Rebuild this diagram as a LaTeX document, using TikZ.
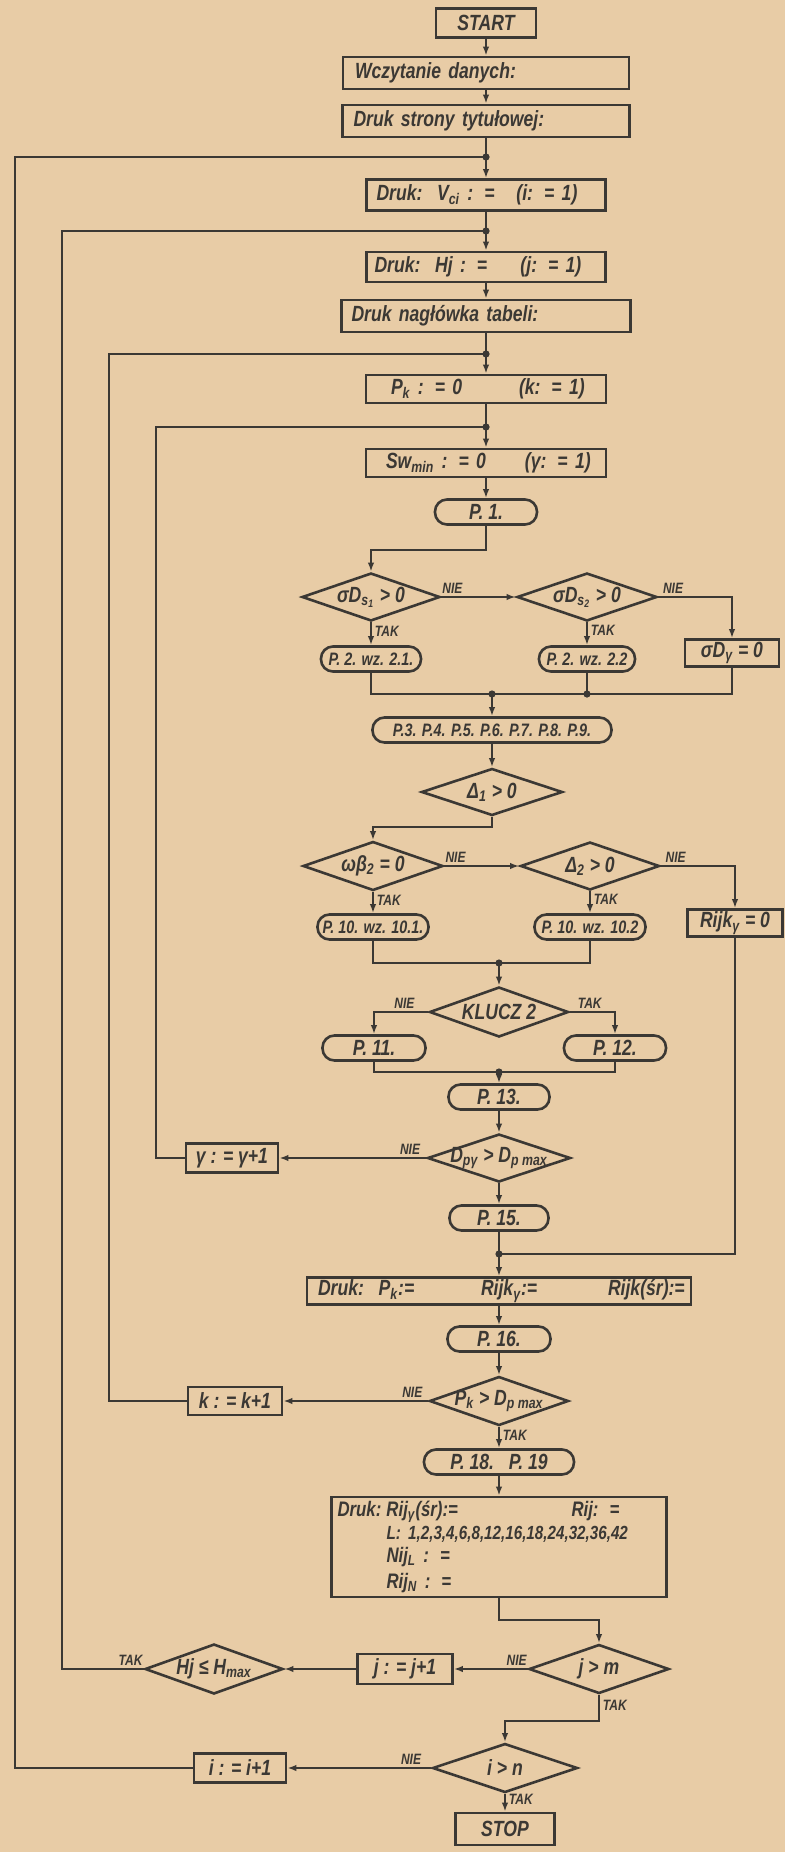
\documentclass[tikz,border=0pt]{standalone}
\usepackage{fontspec}
\setmainfont{Liberation Sans}[FakeStretch=0.8]
\usetikzlibrary{arrows.meta,positioning,calc,shapes.geometric}
\definecolor{Paper}{HTML}{E8CCA6}
\definecolor{Ink}{HTML}{3B3834}
\newcommand{\dlab}[1]{\makebox[0pt]{#1}}
\newcommand{\sbs}[1]{\textsubscript{#1}}

\begin{document}
\begin{tikzpicture}[
  x=0.5pt,y=-0.5pt,
  every node/.style={font=\fontsize{11}{13}\selectfont\bfseries\itshape,text=Ink},
  blk/.style={draw=Ink,line width=1.3pt,fill=Paper,minimum height=#1,inner sep=0pt},
  cbox/.style n args={2}{blk=#2,minimum width=#1},
  lbox/.style n args={2}{blk=#2,text width=#1,align=left},
  rbox/.style={blk=12.5pt,rounded corners=6pt,minimum width=#1},
  dec/.style n args={2}{diamond,draw=Ink,line width=1.3pt,fill=Paper,minimum width=#1,minimum height=#2,inner sep=0pt},
  lin/.style={draw=Ink,line width=0.9pt},
  arr/.style={lin,-{Latex[length=4.5pt,width=3.2pt]}},
  dot/.style={circle,fill=Ink,inner sep=0pt,minimum size=3.6pt},
  lbl/.style={font=\fontsize{7.5}{9}\selectfont\bfseries\itshape,inner sep=1.5pt},
  sm/.style={font=\fontsize{9}{11}\selectfont\bfseries\itshape}
]
\fill[Paper] (0,0) rectangle (785,1852);
\useasboundingbox (0,0) rectangle (785,1852);

% glowny ciag
\node[cbox={50pt}{14.5pt}] (start) at (486,23) {START};
\node[lbox={143pt}{16pt}] (wczyt) at (486,73) {\hspace*{6pt}Wczytanie danych:};
\node[lbox={143.5pt}{16pt}] (tytul) at (486,121) {\hspace*{5.5pt}Druk strony tytułowej:};
\node[lbox={119.5pt}{15.5pt}] (vci) at (486,195) {\hspace*{5pt}\makebox[70pt][l]{Druk:\ \ V\sbs{ci} : =}(i: = 1)};
\node[lbox={119.5pt}{15pt}] (hj) at (486,267) {\hspace*{4pt}\makebox[73pt][l]{Druk:\ \ Hj : =}(j: = 1)};
\node[lbox={144.5pt}{16pt}] (naglow) at (486,316) {\hspace*{5pt}Druk nagłówka tabeli:};
\node[lbox={120pt}{14pt}] (pk0) at (486,389) {\hspace*{12.5pt}\makebox[64pt][l]{P\sbs{k} : = 0}(k: = 1)};
\node[lbox={120pt}{14pt}] (swmin) at (486,463) {\hspace*{10pt}\makebox[69.5pt][l]{Sw\sbs{min} : = 0}(γ: = 1)};
\node[rbox=51pt] (p1) at (486,512) {P. 1.};
\coordinate (j1) at (486,157);
\coordinate (j2) at (486,231);
\coordinate (j3) at (486,354);
\coordinate (j4) at (486,427);

% P.2 i P.3-P.9
\node[dec={69pt}{24pt}] (ds1) at (371,597) {\dlab{σD\sbs{s\sbs{1}} > 0}};
\node[dec={70pt}{24pt}] (ds2) at (587,597) {\dlab{σD\sbs{s\sbs{2}} > 0}};
\node[cbox={47pt}{13.5pt}] (sdg) at (732,653) {σD\sbs{γ} = 0};
\node[rbox=50pt,sm] (p21) at (371,659) {P. 2. wz. 2.1.};
\node[rbox=48pt,sm] (p22) at (587,659) {P. 2. wz. 2.2};
\coordinate (m1) at (492,694);
\node[rbox=119.5pt,sm] (p39) at (492,730) {P.3. P.4. P.5. P.6. P.7. P.8. P.9.};
\node[dec={70.5pt}{23.5pt}] (dl1) at (492,792) {\dlab{Δ\sbs{1} > 0}};

% P.10 - P.13
\node[dec={70pt}{24.5pt}] (wb) at (373,866) {\dlab{ωβ\sbs{2} = 0}};
\node[dec={69.5pt}{24pt}] (dl2) at (590,866) {\dlab{Δ\sbs{2} > 0}};
\node[cbox={47.5pt}{13.5pt}] (rijk0) at (735,923) {Rijk\sbs{γ} = 0};
\node[rbox=55.5pt,sm] (p101) at (373,927) {P. 10. wz. 10.1.};
\node[rbox=55.5pt,sm] (p102) at (590,927) {P. 10. wz. 10.2};
\coordinate (m2) at (499,963);
\node[dec={69.5pt}{25pt}] (klucz) at (499,1012) {\dlab{KLUCZ 2}};
\node[rbox=51.5pt] (p11) at (374,1048) {P. 11.};
\node[rbox=51pt] (p12) at (615,1048) {P. 12.};
\coordinate (m3) at (499,1072);
\node[rbox=50.5pt] (p13) at (499,1097) {P. 13.};

% petla gamma i k
\node[dec={71.5pt}{24pt}] (dpg) at (499,1158) {\dlab{D\sbs{pγ} > D\sbs{p max}}};
\node[cbox={46pt}{14.5pt}] (gam) at (232,1158) {γ : = γ+1};
\node[rbox=49.5pt] (p15) at (499,1218) {P. 15.};
\coordinate (j5) at (499,1254);
\node[lbox={192pt}{13.5pt}] (druk) at (499,1291) {\hspace*{5.5pt}\makebox[81.5pt][l]{Druk:\ \ P\sbs{k}:=}\makebox[63.5pt][l]{Rijk\sbs{γ}:=}Rijk(śr):=};
\node[rbox=51.5pt] (p16) at (499,1339) {P. 16.};
\node[dec={69.5pt}{24.5pt}] (pkd) at (499,1401) {\dlab{P\sbs{k} > D\sbs{p max}}};
\node[cbox={47pt}{14pt}] (kk) at (235,1401) {k : = k+1};
\node[rbox=75pt] (p1819) at (499,1462) {P. 18.\ \ \ P. 19};
\node[lbox={167.5pt}{50pt}] (wyn) at (499,1547) {\fontsize{10.5}{11.5}\selectfont
  \hspace*{3pt}\makebox[24.5pt][l]{Druk:}\makebox[92.5pt][l]{Rij\sbs{γ}(śr):=}Rij: =\\
  \hspace*{27.5pt}{\fontsize{9.5}{11.5}\selectfont L: 1,2,3,4,6,8,12,16,18,24,32,36,42}\\
  \hspace*{27.5pt}Nij\sbs{L} : =\\
  \hspace*{27.5pt}Rij\sbs{N} : =};

% petle j oraz i
\node[dec={70pt}{24.5pt}] (jm) at (599,1669) {\dlab{j > m}};
\node[cbox={47.5pt}{15pt}] (jj) at (405,1669) {j : = j+1};
\node[dec={69pt}{25pt}] (hmax) at (214,1669) {\dlab{Hj ≤ H\sbs{max}}};
\node[dec={72.5pt}{24.5pt}] (dn) at (505,1768) {\dlab{i > n}};
\node[cbox={46pt}{14.5pt}] (ii) at (240,1768) {i : = i+1};
\node[cbox={49.5pt}{16pt}] (stop) at (505,1829) {STOP};

\draw[arr] (start) -- (wczyt);
\draw[arr] (wczyt) -- (tytul);
\draw[arr] (tytul) -- (vci);
\draw[arr] (vci) -- (hj);
\draw[arr] (hj) -- (naglow);
\draw[arr] (naglow) -- (pk0);
\draw[arr] (pk0) -- (swmin);
\draw[arr] (swmin) -- (p1);
\draw[arr] (p1.south) -- ++(0,24) -| (ds1.north);
\draw[arr] (ds1) -- node[lbl,above,pos=0.15]{NIE} (ds2);
\draw[arr] (ds2.east) -| node[lbl,above,pos=0.1]{NIE} (sdg.north);
\draw[arr] (ds1) -- node[lbl,right,pos=0.4]{TAK} (p21);
\draw[arr] (ds2) -- node[lbl,right,pos=0.35]{TAK} (p22);
\draw[lin] (p21.south) |- (sdg.south |- m1) -- (sdg.south);
\draw[lin] (p22) -- (p22.south |- m1);
\draw[arr] (m1) -- (p39);
\draw[arr] (p39) -- (dl1);
\draw[arr] (dl1.south) -- ++(0,10) -| (wb.north);
\draw[arr] (wb) -- node[lbl,above,pos=0.15]{NIE} (dl2);
\draw[arr] (dl2.east) -| node[lbl,above,pos=0.1]{NIE} (rijk0.north);
\draw[arr] (wb) -- node[lbl,right,pos=0.4]{TAK} (p101);
\draw[arr] (dl2) -- node[lbl,right,pos=0.35]{TAK} (p102);
\draw[lin] (p101.south) |- (p102.south |- m2) -- (p102.south);
\draw[arr] (m2) -- (klucz);
\draw[arr] (klucz.west) -| node[lbl,above,pos=0.22]{NIE} (p11.north);
\draw[arr] (klucz.east) -| node[lbl,above,pos=0.22]{TAK} (p12.north);
\draw[lin] (p11.south) |- (p12.south |- m3) -- (p12.south);
\draw[arr] (m3) -- (p13);
\draw[arr] (p13) -- (dpg);
\draw[arr] (dpg) -- node[lbl,above,pos=0.11]{NIE} (gam);
\draw[lin] (gam.west) -- ++(-29,0) |- (j4);
\draw[arr] (dpg) -- (p15);
\draw[arr] (p15) -- (druk);
\draw[lin] (rijk0.south) |- (j5);
\draw[arr] (druk) -- (p16);
\draw[arr] (p16) -- (pkd);
\draw[arr] (pkd) -- node[lbl,above,pos=0.11]{NIE} (kk);
\draw[lin] (kk.west) -- ++(-78,0) |- (j3);
\draw[arr] (pkd) -- node[lbl,right,pos=0.4]{TAK} (p1819);
\draw[arr] (p1819) -- (wyn);
\draw[arr] (wyn.south) -- ++(0,22) -| (jm.north);
\draw[arr] (jm) -- node[lbl,above,pos=0.15]{NIE} (jj);
\draw[arr] (jj) -- (hmax);
\draw[lin] (hmax.west) -- node[lbl,above,pos=0.16]{TAK} ++(-82,0) |- (j2);
\draw[arr] (jm.south) -- node[lbl,right,pos=0.4]{TAK} ++(0,26) -| (dn.north);
\draw[arr] (dn) -- node[lbl,above,pos=0.14]{NIE} (ii);
\draw[lin] (ii.west) -- ++(-178,0) |- (j1);
\draw[arr] (dn) -- node[lbl,right,pos=0.3]{TAK} (stop);
% kropki w wezlach
\foreach \j in {j1,j2,j3,j4,j5,m1,m2,m3} \node[dot] at (\j) {};
\node[dot] at (p22.south |- m1) {};
\end{tikzpicture}
\end{document}
